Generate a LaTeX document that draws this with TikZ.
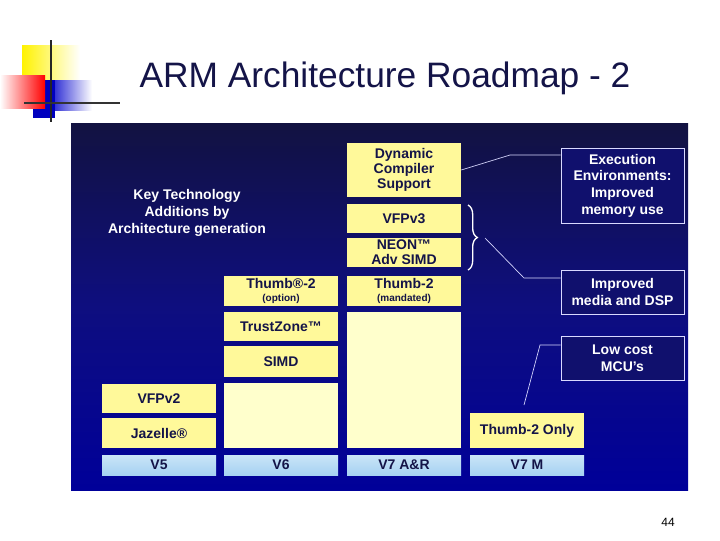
\documentclass[tikz,border=0pt]{standalone}
\usepackage{fontspec}
\setmainfont{Liberation Sans}
\usetikzlibrary{decorations.pathreplacing}
\definecolor{yel}{HTML}{FFF99A}
\definecolor{pale}{HTML}{FFFFCC}
\definecolor{lblue}{HTML}{A6D2F2}
\definecolor{ink}{HTML}{141448}
\tikzset{
 yb/.style={fill=yel,draw=none,font=\bfseries\fontsize{10.5}{11}\selectfont,text=ink,align=center,inner sep=0},
 pb/.style={fill=pale,draw=none},
 vb/.style={top color=lblue!60!white,bottom color=lblue,draw=none,font=\bfseries\fontsize{10.5}{11}\selectfont,text=ink,inner sep=0},
 rb/.style={draw=white!85!blue,line width=0.6pt,fill=ink!80!blue,text=white,font=\bfseries\fontsize{10.5}{12.5}\selectfont,align=center,inner sep=0},
 con/.style={draw=white!85!blue,line width=0.5pt}
}
\newcommand{\bx}[6]{\node[#1,minimum width={(#4-#2)*0.75pt},minimum height={(#5-#3)*0.75pt}] (#6) at ({(#2+#4)/2},{(#3+#5)/2})}
\begin{document}
\begin{tikzpicture}[x=0.75pt,y=-0.75pt]
\useasboundingbox (0,0) rectangle (720,540);
\fill[white] (0,0) rectangle (720,540);
% logo
\shade[left color=yellow!90!orange,right color=white] (22,45) rectangle (80,82);
\shade[left color=blue!80!black,right color=white] (45,80) rectangle (92,110);
\fill[blue!75!black] (33,80) rectangle (55,118);
\shade[left color=white,right color=red] (0,75) rectangle (45,108);
\draw[line width=1.6pt,black!85] (51,40) -- (51,122);
\draw[line width=1.6pt,black!80] (24,103) -- (120,103);
\node[font=\fontsize{26.5}{28}\selectfont,text=ink] (title) at (385,78) {ARM Architecture Roadmap - 2};
% panel
\shade[top color=ink!90!black,bottom color=blue!60!black,middle color=ink!70!blue] (71,123) rectangle (688,490);
\node[text=white,font=\bfseries\fontsize{10.5}{13}\selectfont,align=center] (key) at (187,213) {Key Technology\\Additions by\\Architecture generation};
% V5
\bx{yb}{102}{384}{216}{413}{vfp2} {VFPv2};
\bx{yb}{102}{418}{216}{448}{jaz} {Jazelle®};
% V6
\bx{yb}{224}{276}{338}{306}{th6} {Thumb®-2\\[-1pt]{\fontsize{7.5}{8}\selectfont (option)}};
\bx{yb}{224}{312}{338}{341}{tz} {TrustZone™};
\bx{yb}{224}{346}{338}{377}{simd} {SIMD};
\bx{pb}{224}{383}{338}{448}{p6} {};
% V7A&R
\bx{yb}{347}{143}{461}{197}{dyn} {Dynamic\\Compiler\\Support};
\bx{yb}{347}{204}{461}{233}{vfp3} {VFPv3};
\bx{yb}{347}{238}{461}{267}{neon} {NEON™\\Adv SIMD};
\bx{yb}{347}{276}{461}{306}{th7} {Thumb-2\\[-1pt]{\fontsize{7.5}{8}\selectfont (mandated)}};
\bx{pb}{347}{312}{461}{448}{p7} {};
% V7M
\bx{yb}{470}{413}{584}{448}{tho} {Thumb-2 Only};
% versions
\bx{vb}{102}{455}{216}{475}{v5} {V5};
\bx{vb}{224}{455}{338}{475}{v6} {V6};
\bx{vb}{347}{455}{461}{475}{v7a} {V7 A\&R};
\bx{vb}{470}{455}{584}{475}{v7m} {V7 M};
% right boxes
\bx{rb}{561}{148}{684}{223}{exe} {Execution\\Environments:\\Improved\\memory use};
\bx{rb}{561}{270}{684}{314}{med} {Improved\\media and DSP};
\bx{rb}{561}{336}{684}{380}{mcu} {Low cost\\MCU’s};
% connectors
\draw[decorate,decoration={brace,amplitude=7pt},draw=white,line width=1pt] (468,205) -- (468,270);
\coordinate (bt) at (485,238);
\draw[con] (dyn.east) -- (510,155) -- (exe.west|-0,155);
\draw[con] (bt) -- (524,278) -- (med.west|-0,278);
\coordinate (mb) at (524,405);
\draw[con] (mb) -- (540,345) -- (mcu.west|-0,345);
\node[font=\fontsize{9}{10}\selectfont] (pg) at (668,522) {44};
\end{tikzpicture}
\end{document}
